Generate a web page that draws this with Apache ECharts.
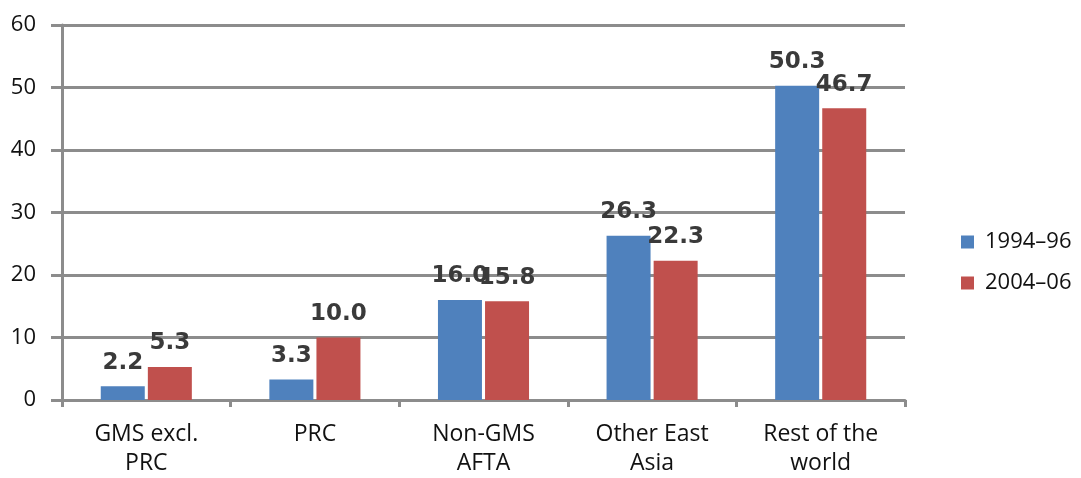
<!DOCTYPE html>
<html>
<head>
<meta charset="utf-8">
<script src="https://cdn.jsdelivr.net/npm/echarts@6/dist/echarts.min.js"></script>
<style>
  html, body { margin: 0; padding: 0; background: #ffffff; }
  #chart { width: 1081px; height: 478px; }
</style>
</head>
<body>
<div id="chart"></div>
<script>
// Regions shown along the category axis
const categories = ['GMS excl.\nPRC', 'PRC', 'Non-GMS\nAFTA', 'Other East\nAsia', 'Rest of the\nworld'];
// Shares for each period
const period1 = [2.2, 3.3, 16.0, 26.3, 50.3];
const period2 = [5.3, 10.0, 15.8, 22.3, 46.7];
const seriesNames = ['1994–96', '2004–06'];
const yTicks = { min: 0, max: 60, step: 10 };

const axisGray = '#8c8c8c';
const textFont = '"Open Sans", "Noto Sans", sans-serif';

const labelStyle = {
  show: true,
  position: 'top',
  distance: 12,
  formatter: p => p.value.toFixed(1),
  fontFamily: '"DejaVu Sans", sans-serif',
  fontWeight: 'bold',
  fontSize: 23,
  color: '#3a3a3a'
};

const chart = echarts.init(document.getElementById('chart'), null, { renderer: 'canvas' });
chart.setOption({
  animation: false,
  backgroundColor: '#ffffff',
  grid: { left: 62, right: 176, top: 25, bottom: 71, containLabel: false },
  legend: {
    orient: 'vertical',
    left: 956,
    top: 226,
    itemWidth: 13,
    itemHeight: 13,
    itemGap: 19,
    icon: 'rect',
    textStyle: { fontFamily: textFont, fontSize: 22, color: '#111111', padding: [0, 0, 0, 6] },
    data: seriesNames
  },
  xAxis: {
    type: 'category',
    data: categories,
    axisLine: { lineStyle: { color: axisGray, width: 3 } },
    axisTick: { show: true, length: 7, lineStyle: { color: axisGray, width: 3 } },
    axisLabel: { fontFamily: textFont, fontSize: 23, color: '#111111', margin: 20, lineHeight: 29 }
  },
  yAxis: {
    type: 'value',
    min: yTicks.min,
    max: yTicks.max,
    interval: yTicks.step,
    axisLine: { show: true, lineStyle: { color: axisGray, width: 3 } },
    axisTick: { show: true, length: 11, lineStyle: { color: axisGray, width: 3 } },
    splitLine: { lineStyle: { color: axisGray, width: 3 } },
    axisLabel: { fontFamily: textFont, fontSize: 22, color: '#111111', margin: 26 }
  },
  series: [
    {
      name: seriesNames[0],
      type: 'bar',
      data: period1,
      barWidth: 44,
      barGap: '7%',
      itemStyle: { color: '#4f81bd' },
      label: labelStyle
    },
    {
      name: seriesNames[1],
      type: 'bar',
      data: period2,
      barWidth: 44,
      itemStyle: { color: '#c0504d' },
      label: labelStyle
    }
  ]
});
</script>
</body>
</html>
